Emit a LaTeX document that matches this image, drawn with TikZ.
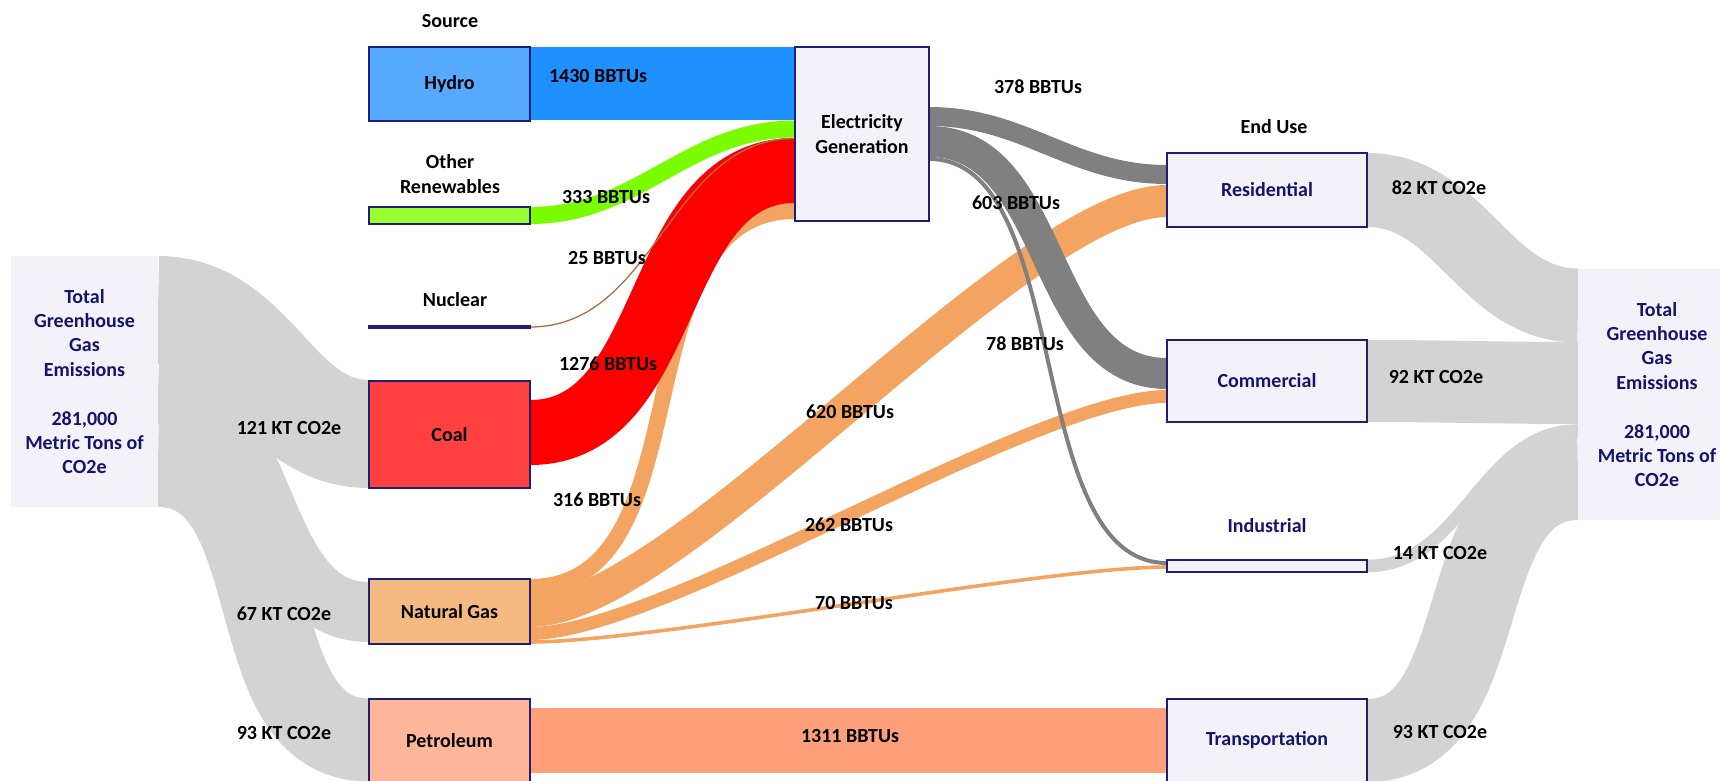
\documentclass[tikz,border=0pt]{standalone}
\usepackage{fontspec}
\setmainfont{Carlito}
\usepackage{tikz}
\pgfdeclarelayer{flows}
\pgfsetlayers{flows,main}
\definecolor{navyline}{RGB}{30,30,120}
\definecolor{navytext}{RGB}{20,20,110}
\definecolor{boxfill}{RGB}{242,242,248}
\definecolor{greyflow}{RGB}{211,211,211}
\definecolor{elecflow}{RGB}{128,128,128}
\definecolor{hydroflow}{RGB}{30,144,255}
\definecolor{hydrobox}{RGB}{85,170,255}
\definecolor{renewflow}{RGB}{124,252,0}
\definecolor{renewbox}{RGB}{153,255,51}
\definecolor{nucflow}{RGB}{170,110,70}
\definecolor{coalflow}{RGB}{255,0,0}
\definecolor{coalbox}{RGB}{255,64,64}
\definecolor{gasflow}{RGB}{243,164,96}
\definecolor{gasbox}{RGB}{245,185,130}
\definecolor{petrolflow}{RGB}{255,160,122}
\definecolor{petrolbox}{RGB}{255,182,155}

\begin{document}
\begin{tikzpicture}[x=1pt, y=-1pt,
	every node/.style={font=\fontsize{20}{24.4}\selectfont\bfseries, inner sep=0pt, outer sep=0pt, align=center},
	box/.style={draw=navyline, line width=1.6pt, fill=boxfill},
	source/.style={box, minimum width=161pt},
	enduse/.style={box, text=navytext, minimum width=200pt},
	total/.style={fill=boxfill, text=navytext, minimum height=251pt},
	flow/.style={line width=#1}]
	\useasboundingbox (0,0) rectangle (1720,781);
	\node[total, minimum width=147pt] (totl) at (84.5,381.5) {Total\\Greenhouse\\Gas\\Emissions\\[24.4pt]281,000\\Metric Tons of\\CO2e};
	\node[total, minimum width=158pt] (totr) at (1657,394.5) {Total\\Greenhouse\\Gas\\Emissions\\[24.4pt]281,000\\Metric Tons of\\CO2e};
	\node[source, fill=hydrobox, minimum height=74pt] (hydro) at (449.5,84) {Hydro};
	\node[source, fill=renewbox, minimum height=17pt] (renew) at (449.5,215.5) {};
	\node[source, fill=navyline, minimum height=1.5pt] (nuclear) at (449.5,327) {};
	\node[source, fill=coalbox, minimum height=107pt] (coal) at (449.5,434.5) {Coal};
	\node[source, fill=gasbox, minimum height=65pt] (gas) at (449.5,611.5) {Natural Gas};
	\node[source, fill=petrolbox, minimum height=83pt] (petrol) at (449.5,740.5) {Petroleum};
	\node[box, minimum width=134pt, minimum height=174pt] (eg) at (862,134) {Electricity\\Generation};
	\node[enduse, minimum height=74pt] (res) at (1267,190) {Residential};
	\node[enduse, minimum height=82pt] (com) at (1267,381) {Commercial};
	\node[enduse, minimum height=12pt] (ind) at (1267,566) {};
	\node[enduse, minimum height=83pt] (trans) at (1267,740.5) {Transportation};
	\node (srchead) at (450,21) {Source};
	\node (endhead) at (1274,127) {End Use};
	\node (renewlbl) at (450,174) {Other\\Renewables};
	\node (nuclbl) at (455,300) {Nuclear};
	\node[text=navytext] (indlbl) at (1267,526) {Industrial};
	\begin{pgfonlayer}{flows}
		\draw[greyflow, flow=108pt] (totl.east |- 0,310) to[out=0,in=180] (coal.west |- 0,434);
		\draw[greyflow, flow=60pt] (totl.east |- 0,394) to[out=0,in=180] (gas.west |- 0,612);
		\draw[greyflow, flow=83pt] (totl.east |- 0,465.5) to[out=0,in=180] (petrol.west |- 0,740);
		\draw[greyflow, flow=74pt] (res.east) to[out=0,in=180] (totr.west |- 0,305.5);
		\draw[greyflow, flow=82pt] (com.east) to[out=0,in=180] (totr.west |- 0,383);
		\draw[greyflow, flow=12.5pt] (ind.east) to[out=0,in=180] (totr.west |- 0,430.5);
		\draw[greyflow, flow=83pt] (trans.east) to[out=0,in=180] (totr.west |- 0,478.5);
		\draw[hydroflow, flow=73pt] (hydro.east |- 0,83.5) -- (eg.west |- 0,83.5);
		\draw[renewflow, flow=17pt] (renew.east) to[out=0,in=180] (eg.west |- 0,129);
		\draw[gasflow, flow=16pt] (gas.east |- 0,587) to[out=0,in=180] (eg.west |- 0,211);
		\draw[coalflow, flow=65pt] (coal.east |- 0,432.5) to[out=0,in=180] (eg.west |- 0,170.5);
		\draw[nucflow, flow=1.3pt] (nuclear.east) to[out=0,in=180] (eg.west |- 0,138.5);
		\draw[gasflow, flow=32pt] (gas.east |- 0,611) to[out=0,in=180,looseness=0.5] (res.west |- 0,201);
		\draw[gasflow, flow=13pt] (gas.east |- 0,633.5) to[out=0,in=180,looseness=0.5] (com.west |- 0,396.5);
		\draw[gasflow, flow=3.6pt] (gas.east |- 0,642) to[out=0,in=180,looseness=0.5] (ind.west |- 0,567);
		\draw[elecflow, flow=19pt] (eg.east |- 0,116.5) to[out=0,in=180] (res.west |- 0,174.5);
		\draw[elecflow, flow=31pt] (eg.east |- 0,141.5) to[out=0,in=180] (com.west |- 0,373.5);
		\draw[elecflow, flow=4pt] (eg.east |- 0,159) to[out=0,in=180,looseness=0.8] (ind.west |- 0,563);
		\draw[petrolflow, flow=65pt] (petrol.east |- 0,740.5) -- (trans.west |- 0,740.5);
	\end{pgfonlayer}
	\node (lhydro) at (598,76) {1430 BBTUs};
	\node (lrenew) at (606,197) {333 BBTUs};
	\node (lnuc) at (607,258) {25 BBTUs};
	\node (lcoal) at (608,364) {1276 BBTUs};
	\node (lgaseg) at (597,500) {316 BBTUs};
	\node (lres) at (1038,87) {378 BBTUs};
	\node (lcom) at (1016,203) {603 BBTUs};
	\node (lind) at (1025,344) {78 BBTUs};
	\node (lgasres) at (850,412) {620 BBTUs};
	\node (lgascom) at (849,525) {262 BBTUs};
	\node (lgasind) at (854,603) {70 BBTUs};
	\node (lpetrol) at (850,736) {1311 BBTUs};
	\node (lcoalco) at (289,428) {121 KT CO2e};
	\node (lgasco) at (284,614) {67 KT CO2e};
	\node (lpetrolco) at (284,733) {93 KT CO2e};
	\node (lresco) at (1439,188) {82 KT CO2e};
	\node (lcomco) at (1436,377) {92 KT CO2e};
	\node (lindco) at (1440,553) {14 KT CO2e};
	\node (ltransco) at (1440,732) {93 KT CO2e};
\end{tikzpicture}
\end{document}
